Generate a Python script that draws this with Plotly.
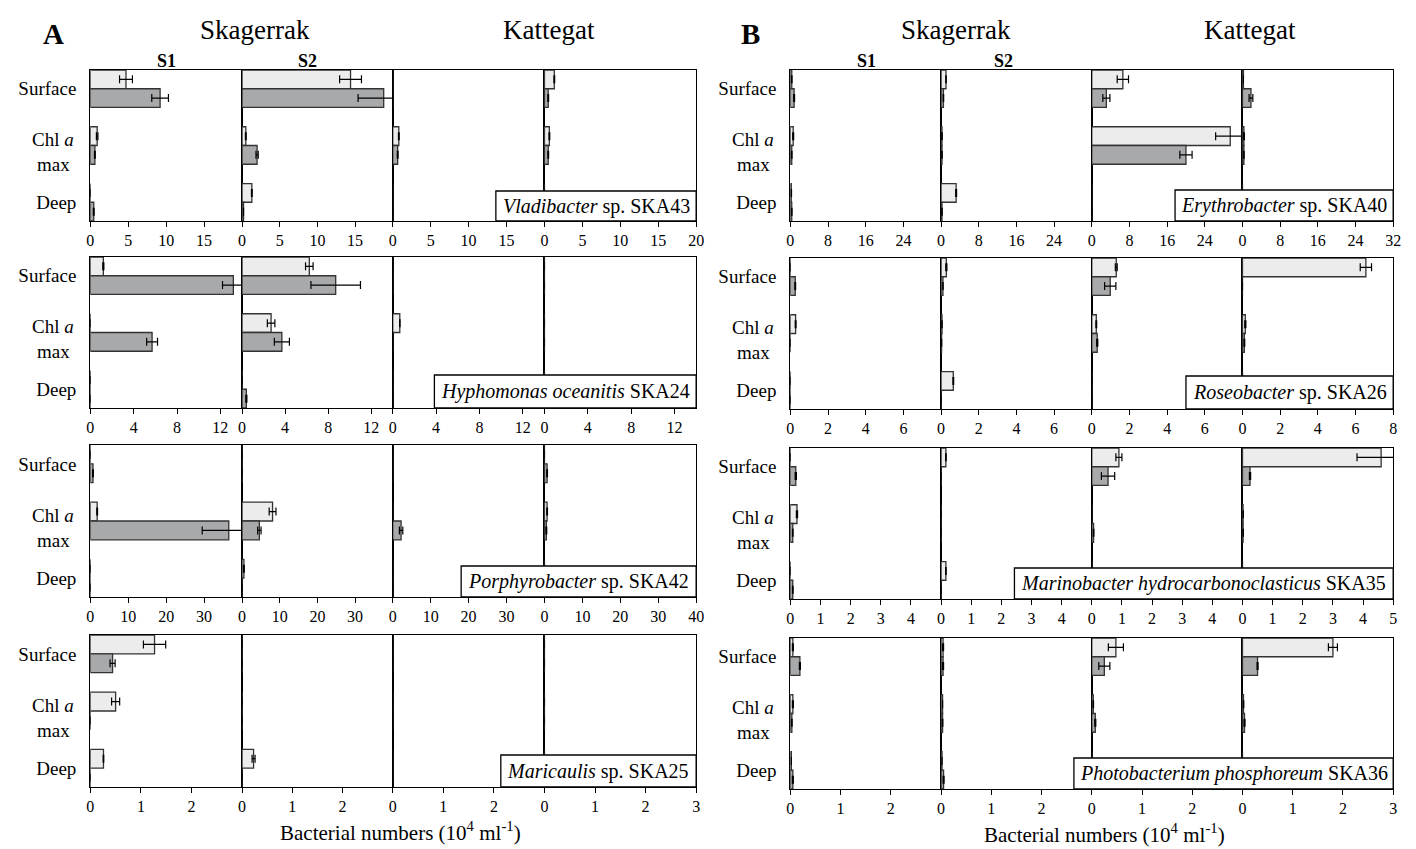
import plotly.graph_objects as go

W, H = 1416, 849

depths = ["Surface", "Chl a max", "Deep"]
stations = ["S1", "S2", "K1", "K2"]

# values per station [S1, S2, K1, K2], each [Surface, Chl a max, Deep]
vlad_light = [[4.7, 0.9, 0.0], [14.4, 0.5, 1.3], [0.0, 0.8, 0.0], [1.3, 0.65, 0.0]]
vlad_dark = [[9.2, 0.6, 0.45], [18.8, 2.0, 0.2], [0.0, 0.65, 0.0], [0.5, 0.5, 0.0]]
vlad_light_err = [[0.85, 0.1, 0], [1.45, 0.05, 0.05], [0, 0.05, 0], [0.05, 0.05, 0]]
vlad_dark_err = [[1.1, 0.05, 0.05], [3.4, 0.15, 0], [0, 0.05, 0], [0.05, 0.05, 0]]

hypho_light = [[1.2, 0.0, 0.0], [6.25, 2.7, 0.0], [0.0, 0.65, 0.0], [0.0, 0.0, 0.0]]
hypho_dark = [[13.2, 5.7, 0.0], [8.7, 3.7, 0.4], [0.0, 0.0, 0.0], [0.0, 0.0, 0.0]]
hypho_light_err = [[0.05, 0, 0], [0.35, 0.35, 0], [0, 0.02, 0], [0, 0, 0]]
hypho_dark_err = [[1.0, 0.5, 0], [2.3, 0.7, 0.05], [0, 0, 0], [0, 0, 0]]

porph_light = [[0.0, 1.8, 0.0], [0.0, 8.1, 0.5], [0.0, 0.0, 0.0], [0.0, 0.7, 0.0]]
porph_dark = [[0.7, 36.5, 0.0], [0.0, 4.6, 0.0], [0.0, 2.2, 0.0], [0.7, 0.5, 0.0]]
porph_light_err = [[0, 0.1, 0], [0, 0.9, 0.1], [0, 0, 0], [0, 0.1, 0]]
porph_dark_err = [[0.1, 7.0, 0], [0, 0.45, 0], [0, 0.45, 0], [0.1, 0.1, 0]]

mari_light = [[1.27, 0.5, 0.26], [0.0, 0.0, 0.23], [0.0, 0.0, 0.0], [0.0, 0.0, 0.0]]
mari_dark = [[0.44, 0.0, 0.0], [0.0, 0.0, 0.0], [0.0, 0.0, 0.0], [0.0, 0.0, 0.0]]
mari_light_err = [[0.22, 0.08, 0.005], [0, 0, 0.03], [0, 0, 0], [0, 0, 0]]
mari_dark_err = [[0.05, 0, 0], [0, 0, 0], [0, 0, 0], [0, 0, 0]]

eryth_light = [[0.3, 0.6, 0.2], [1.05, 0.2, 3.2], [6.6, 29.4, 0.0], [0.2, 0.3, 0.0]]
eryth_dark = [[0.8, 0.3, 0.3], [0.5, 0.2, 0.2], [3.1, 20.0, 0.0], [1.8, 0.3, 0.0]]
eryth_light_err = [[0.05, 0.1, 0.05], [0.05, 0.05, 0.1], [1.2, 3.1, 0], [0, 0.1, 0]]
eryth_dark_err = [[0.1, 0.05, 0.05], [0.05, 0.05, 0.05], [0.75, 1.3, 0], [0.4, 0.05, 0]]

roseo_light = [[0.0, 0.28, 0.0], [0.28, 0.05, 0.65], [1.3, 0.24, 0.0], [6.55, 0.15, 0.0]]
roseo_dark = [[0.26, 0.0, 0.0], [0.1, 0.03, 0.0], [0.98, 0.29, 0.0], [0.0, 0.1, 0.0]]
roseo_light_err = [[0, 0.02, 0], [0.03, 0.01, 0.02], [0.05, 0.02, 0], [0.3, 0.03, 0]]
roseo_dark_err = [[0.02, 0, 0], [0.01, 0, 0], [0.3, 0.03, 0], [0, 0.02, 0]]

marino_light = [[0.0, 0.22, 0.0], [0.16, 0.0, 0.16], [0.9, 0.0, 0.0], [4.6, 0.02, 0.0]]
marino_dark = [[0.18, 0.08, 0.08], [0.0, 0.0, 0.0], [0.54, 0.06, 0.0], [0.25, 0.02, 0.0]]
marino_light_err = [[0, 0.02, 0], [0.01, 0, 0.01], [0.1, 0, 0], [0.8, 0.01, 0]]
marino_dark_err = [[0.02, 0.01, 0.01], [0, 0, 0], [0.22, 0.01, 0], [0.02, 0.01, 0]]

photo_light = [[0.05, 0.05, 0.02], [0.04, 0.03, 0.02], [0.48, 0.03, 0.0], [1.8, 0.02, 0.0]]
photo_dark = [[0.19, 0.03, 0.05], [0.04, 0.03, 0.05], [0.25, 0.07, 0.0], [0.3, 0.04, 0.0]]
photo_light_err = [[0.01, 0.01, 0], [0.01, 0, 0], [0.15, 0.005, 0], [0.09, 0.005, 0]]
photo_dark_err = [[0.01, 0.005, 0.01], [0.01, 0.005, 0.01], [0.11, 0.01, 0], [0.01, 0.01, 0]]

species_A = ["<i>Vladibacter</i> sp. SKA43", "<i>Hyphomonas oceanitis</i> SKA24",
             "<i>Porphyrobacter</i> sp. SKA42", "<i>Maricaulis</i> sp. SKA25"]
species_B = ["<i>Erythrobacter</i> sp. SKA40", "<i>Roseobacter</i> sp. SKA26",
             "<i>Marinobacter hydrocarbonoclasticus</i> SKA35",
             "<i>Photobacterium phosphoreum</i> SKA36"]

xmax_A = [20, 14, 40, 3]
xstep_A = [5, 4, 10, 1]
xmax_B = [32, 8, 5, 3]
xstep_B = [8, 2, 1, 1]

data_A = [(vlad_light, vlad_dark, vlad_light_err, vlad_dark_err),
          (hypho_light, hypho_dark, hypho_light_err, hypho_dark_err),
          (porph_light, porph_dark, porph_light_err, porph_dark_err),
          (mari_light, mari_dark, mari_light_err, mari_dark_err)]
data_B = [(eryth_light, eryth_dark, eryth_light_err, eryth_dark_err),
          (roseo_light, roseo_dark, roseo_light_err, roseo_dark_err),
          (marino_light, marino_dark, marino_light_err, marino_dark_err),
          (photo_light, photo_dark, photo_light_err, photo_dark_err)]

# ---- layout geometry (pixels) ----
FONT = "Liberation Serif"
LIGHT = "#ececec"
DARK = "#a8a9ab"
panels = [
    dict(cols=[79, 232, 384, 537, 690],
         rows=[(62, 213), (249, 400), (437, 589), (627, 779)],
         data=data_A, species=species_A, xmax=xmax_A, xstep=xstep_A,
         boxw=[202, 264, 237, 197], boxh=[30, 33, 31, 32]),
    dict(cols=[785, 937, 1089, 1241, 1393],
         rows=[(62, 213), (250, 401), (440, 591), (630, 781)],
         data=data_B, species=species_B, xmax=xmax_B, xstep=xstep_B,
         boxw=[220, 209, 382, 322], boxh=[31, 33, 31, 31]),
]

fig = go.Figure()
layout = dict(width=W, height=H, margin=dict(l=0, r=0, t=0, b=0), autosize=False,
              paper_bgcolor="white", plot_bgcolor="white", showlegend=False,
              barmode="group", bargap=0.34, bargroupgap=0,
              font=dict(family=FONT, color="black", size=16))
annotations = []
shapes = []

k = 0
for p in panels:
    for r, (top, bot) in enumerate(p["rows"]):
        light, dark, lerr, derr = p["data"][r]
        xm = p["xmax"][r]
        st = p["xstep"][r]
        for c in range(4):
            k += 1
            xa = "x" if k == 1 else f"x{k}"
            ya = "y" if k == 1 else f"y{k}"
            last = c == 3
            for vals, errs, col in ((light, lerr, LIGHT), (dark, derr, DARK)):
                fig.add_trace(go.Bar(
                    y=depths, x=vals[c], orientation="h", xaxis=xa, yaxis=ya,
                    marker=dict(color=col, line=dict(color="#333333", width=1.3)),
                    error_x=dict(type="data", array=errs[c], arrayminus=errs[c],
                                 symmetric=False, color="black", thickness=1.2, width=4),
                    cliponaxis=not last,
                ))
            ticks = [v for v in range(0, xm + 1, st)]
            if not last:
                ticks = [v for v in ticks if v < xm]
            x0 = p["cols"][c] / W
            x1 = p["cols"][c + 1] / W
            layout["xaxis" if k == 1 else f"xaxis{k}"] = dict(
                domain=[x0, x1], range=[0, xm], anchor=ya,
                showline=True, mirror=True, linecolor="black", linewidth=1.3,
                showgrid=False, zeroline=False, ticks="outside", ticklen=5,
                tickwidth=1, tickcolor="black", tickvals=ticks,
                tickfont=dict(size=16, family=FONT), fixedrange=True)
            layout["yaxis" if k == 1 else f"yaxis{k}"] = dict(
                domain=[1 - bot / H, 1 - top / H], anchor=xa, type="category",
                categoryarray=depths, range=[2.33, -0.33],
                tickmode="array", tickvals=[depths[0], depths[2]],
                ticktext=[depths[0], depths[2]],
                showline=True, mirror=True, linecolor="black", linewidth=1.3,
                showgrid=False, zeroline=False, ticks="", ticklabelstandoff=9,
                showticklabels=(c == 0), tickfont=dict(size=19, family=FONT),
                fixedrange=True)
        # "Chl a / max" label, split over two lines
        left = p["cols"][0]
        mid = (top + bot) / 2
        annotations.append(dict(text="Chl <i>a</i>", xref="paper", yref="paper",
                                x=(left - 14) / W, y=1 - (mid - 6) / H,
                                xanchor="right", yanchor="middle", showarrow=False,
                                font=dict(size=19, family=FONT)))
        annotations.append(dict(text="max", xref="paper", yref="paper",
                                x=(left - 37) / W, y=1 - (mid + 19) / H,
                                xanchor="center", yanchor="middle", showarrow=False,
                                font=dict(size=19, family=FONT)))
        # species label box
        bw = p["boxw"][r]
        bh = p["boxh"][r]
        xr = p["cols"][4]
        shapes.append(dict(type="rect", xref="paper", yref="paper",
                           x0=(xr - bw) / W, x1=xr / W, y0=1 - bot / H, y1=1 - (bot - bh) / H,
                           fillcolor="white", line=dict(color="black", width=1.3), layer="above"))
        annotations.append(dict(
            text=p["species"][r], xref="paper", yref="paper",
            x=(xr - bw / 2) / W, y=1 - (bot - bh / 2) / H, xanchor="center", yanchor="middle",
            showarrow=False, font=dict(size=20, family=FONT)))

# headers
headers = [
    ("<b>A</b>", 42, 26, 29), ("Skagerrak", 245, 22, 27), ("Kattegat", 542, 22, 27),
    ("<b>S1</b>", 156, 53, 18), ("<b>S2</b>", 298, 53, 18),
    ("<b>B</b>", 745, 26, 29), ("Skagerrak", 952, 22, 27), ("Kattegat", 1249, 22, 27),
    ("<b>S1</b>", 862, 53, 18), ("<b>S2</b>", 1000, 53, 18),
]
for txt, x, y, s in headers:
    annotations.append(dict(text=txt, xref="paper", yref="paper", x=x / W, y=1 - y / H,
                            xanchor="center", yanchor="middle", showarrow=False,
                            font=dict(size=s, family=FONT)))

xtitle = "Bacterial numbers (10<sup>4</sup> ml<sup>-1</sup>)"
for x, y in ((392, 823), (1102, 825)):
    annotations.append(dict(text=xtitle, xref="paper", yref="paper", x=x / W, y=1 - y / H,
                            xanchor="center", yanchor="middle", showarrow=False,
                            font=dict(size=21, family=FONT)))

layout["annotations"] = annotations
layout["shapes"] = shapes
fig.update_layout(**layout)
fig.write_html("out.html")
